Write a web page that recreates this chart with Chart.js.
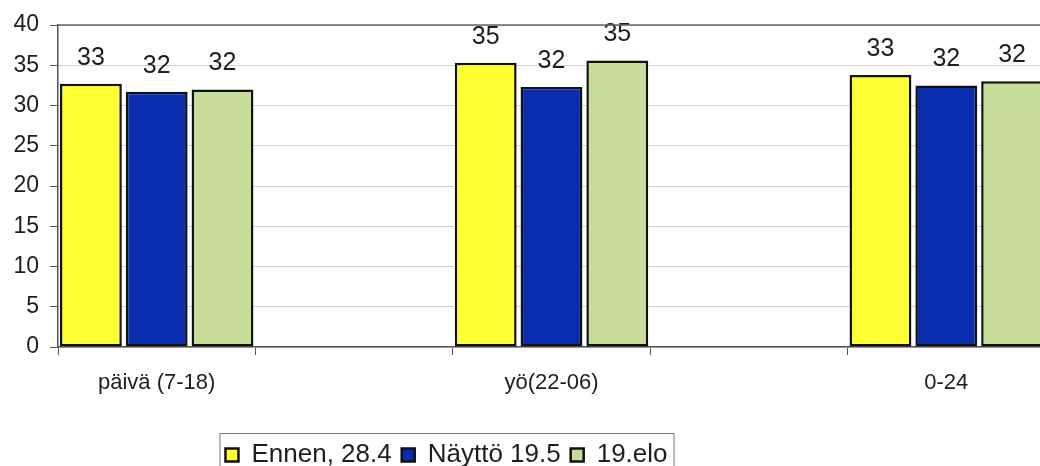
<!DOCTYPE html>
<html>
<head>
<meta charset="utf-8">
<script src="https://cdn.jsdelivr.net/npm/chart.js@4.4.0/dist/chart.umd.min.js"></script>
<style>
  html, body { margin: 0; padding: 0; background: #fff; overflow: hidden; }
  #wrap { width: 1050px; height: 478px; }
</style>
</head>
<body>
<div id="wrap"><canvas id="chart" width="1050" height="478"></canvas></div>
<script>
// Datos (las categorías vacías dejan el hueco entre grupos)
const categories = ['päivä (7-18)', '', 'yö(22-06)', '', '0-24'];
const seriesNames = ['Ennen, 28.4', 'Näyttö 19.5', '19.elo'];
const ennen = [32.7, null, 35.3, null, 33.8];
const naytto = [31.7, null, 32.3, null, 32.5];
const elo = [32.0, null, 35.6, null, 33.0];
const ennenLabels = ['33', '', '35', '', '33'];
const nayttoLabels = ['32', '', '32', '', '32'];
const eloLabels = ['32', '', '35', '', '32'];
const yTicks = [0, 5, 10, 15, 20, 25, 30, 35, 40];

const colors = {
    yellow: '#ffff33',
    blue: '#0a2db0',
    green: '#c5dd98',
    text: '#1e1e1e',
    grid: '#d4d4d4',
    axis: '#555555'
};
const fontFamily = "'Liberation Sans', Arial, sans-serif";

// Etiquetas de valor encima de cada barra
const valueLabels = {
    id: 'valueLabels',
    afterDatasetsDraw(chart) {
        const ctx = chart.ctx;
        const labelSets = [ennenLabels, nayttoLabels, eloLabels];
        ctx.save();
        ctx.font = '25px ' + fontFamily;
        ctx.fillStyle = colors.text;
        ctx.textAlign = 'center';
        ctx.textBaseline = 'middle';
        chart.data.datasets.forEach((ds, i) => {
            chart.getDatasetMeta(i).data.forEach((bar, j) => {
                if (ds.data[j] == null) return;
                ctx.fillText(labelSets[i][j], bar.x, bar.y - 26);
            });
        });
        ctx.restore();
    }
};

// Borde superior del área y caja de la leyenda
const frame = {
    id: 'frame',
    afterLayout(chart) {
        // la leyenda del original no está centrada
        chart.legend.left -= 76;
        chart.legend.right -= 76;
    },
    afterDraw(chart) {
        const ctx = chart.ctx;
        const a = chart.chartArea;
        ctx.save();
        ctx.strokeStyle = '#666';
        ctx.lineWidth = 1.5;
        ctx.beginPath();
        ctx.moveTo(a.left, a.top);
        ctx.lineTo(a.right, a.top);
        ctx.stroke();
        const boxes = chart.legend.legendHitBoxes;
        if (boxes && boxes.length) {
            const x0 = boxes[0].left - 6;
            const last = boxes[boxes.length - 1];
            const x1 = last.left + last.width + 6;
            const y0 = boxes[0].top - 9;
            ctx.strokeStyle = '#777';
            ctx.lineWidth = 1;
            ctx.strokeRect(x0 + 0.5, y0 + 0.5, x1 - x0, 60);
        }
        ctx.restore();
    }
};

function makeDataset(label, data, color) {
    return {
        label: label,
        data: data,
        backgroundColor: color,
        borderColor: '#111',
        borderWidth: 2.5,
        borderSkipped: false,
        barPercentage: 0.94,
        categoryPercentage: 1.0
    };
}

new Chart(document.getElementById('chart'), {
    type: 'bar',
    data: {
        labels: categories,
        datasets: [
            makeDataset(seriesNames[0], ennen, colors.yellow),
            makeDataset(seriesNames[1], naytto, colors.blue),
            makeDataset(seriesNames[2], elo, colors.green)
        ]
    },
    options: {
        responsive: false,
        animation: false,
        layout: { padding: { top: 25, right: 5, left: 0, bottom: 0 } },
        plugins: {
            legend: {
                position: 'bottom',
                labels: {
                    font: { family: fontFamily, size: 26 },
                    color: colors.text,
                    boxWidth: 13,
                    boxHeight: 13,
                    padding: 10
                }
            },
            tooltip: { enabled: false }
        },
        scales: {
            x: {
                offset: true,
                grid: {
                    offset: true,
                    drawOnChartArea: false,
                    drawTicks: true,
                    tickLength: 8,
                    color: colors.axis
                },
                border: { color: colors.axis, width: 1.5 },
                ticks: {
                    font: { family: fontFamily, size: 22 },
                    color: colors.text,
                    padding: 15,
                    maxRotation: 0,
                    autoSkip: false
                },
                afterFit(scale) { scale.height = 85; }
            },
            y: {
                min: 0,
                max: 40,
                afterBuildTicks(scale) {
                    scale.ticks = yTicks.map(v => ({ value: v }));
                },
                grid: {
                    color: colors.grid,
                    tickColor: colors.axis,
                    tickLength: 8
                },
                border: { color: colors.axis, width: 1.5 },
                ticks: {
                    font: { family: fontFamily, size: 23 },
                    color: colors.text,
                    padding: 11
                },
                afterFit(scale) { scale.width = 58; }
            }
        }
    },
    plugins: [valueLabels, frame]
});
</script>
</body>
</html>
